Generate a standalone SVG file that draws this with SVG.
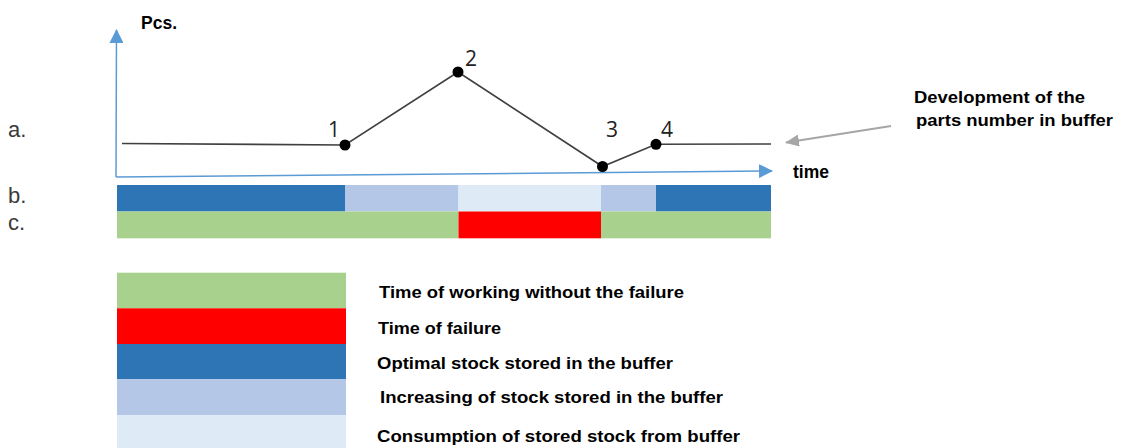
<svg xmlns="http://www.w3.org/2000/svg" width="1124" height="448" viewBox="0 0 1124 448">
  <style>
    .lbl { font-family: "Liberation Sans", Arial, sans-serif; font-weight: bold; fill: #000; }
    .abc { font-family: "Liberation Sans", Arial, sans-serif; font-size: 22px; fill: #3a3a3a; }
    .num { font-family: "Open Sans", "Liberation Sans", sans-serif; font-size: 21px; fill: #222; text-anchor: middle; }
    .data { fill: none; stroke: #404040; stroke-width: 1.6; }
    .axis { fill: none; stroke: #5b9bd5; stroke-width: 1.5; }
    .dot { fill: #000; }
    .g { fill: #a9d18e; }
    .r { fill: #ff0000; }
    .db { fill: #2e75b6; }
    .lb { fill: #b4c7e7; }
    .xb { fill: #deebf7; }
  </style>
  <defs>
    <marker id="blueArrow" markerWidth="14" markerHeight="14" refX="13" refY="7" orient="auto" markerUnits="userSpaceOnUse" viewBox="0 0 14 14">
      <path d="M0,0 L14,7 L0,14 Z" fill="#5b9bd5"/>
    </marker>
    <marker id="grayArrow" markerWidth="14" markerHeight="12" refX="13" refY="6" orient="auto" markerUnits="userSpaceOnUse" viewBox="0 0 14 12">
      <path d="M0,0 L14,6 L0,12 Z" fill="#a6a6a6"/>
    </marker>
  </defs>

  <rect width="1124" height="448" fill="#fff"/>

  <g id="axes">
    <path class="axis" d="M116,177 L116.5,30" marker-end="url(#blueArrow)"/>
    <path class="axis" d="M116,177 L772,171" marker-end="url(#blueArrow)"/>
    <text class="lbl" x="141" y="29" font-size="17.5">Pcs.</text>
    <text class="lbl" x="793" y="178" font-size="17.5">time</text>
  </g>

  <g id="row-labels">
    <text class="abc" x="8" y="137">a.</text>
    <text class="abc" x="8" y="203">b.</text>
    <text class="abc" x="8" y="229.5">c.</text>
  </g>

  <g id="connectors">
    <polyline class="data" points="122,143.5 345,145 458,72 602.5,166.5 656,144.3 771,144"/>
    <line x1="891" y1="126" x2="786" y2="142.5" stroke="#a6a6a6" stroke-width="1.8" marker-end="url(#grayArrow)"/>
  </g>

  <g id="point-1"><circle class="dot" cx="345" cy="145" r="5.5"/><text class="num" x="334" y="137">1</text></g>
  <g id="point-2"><circle class="dot" cx="458" cy="72" r="5.5"/><text class="num" x="471" y="66">2</text></g>
  <g id="point-3"><circle class="dot" cx="602.5" cy="166.5" r="5.5"/><text class="num" x="612" y="137">3</text></g>
  <g id="point-4"><circle class="dot" cx="656" cy="144.3" r="5.5"/><text class="num" x="667" y="137">4</text></g>

  <g id="annotation">
    <text class="lbl" x="914" y="103" font-size="17" textLength="171" lengthAdjust="spacingAndGlyphs">Development of the</text>
    <text class="lbl" x="916" y="126" font-size="17" textLength="197" lengthAdjust="spacingAndGlyphs">parts number in buffer</text>
  </g>

  <g id="bar-b">
    <rect class="db" x="117" y="185" width="228" height="26.5"/>
    <rect class="lb" x="345" y="185" width="113.5" height="26.5"/>
    <rect class="xb" x="458.5" y="185" width="142.5" height="26.5"/>
    <rect class="lb" x="601" y="185" width="55" height="26.5"/>
    <rect class="db" x="656" y="185" width="115" height="26.5"/>
  </g>
  <g id="bar-c">
    <rect class="g" x="117" y="211.5" width="341.5" height="26.8"/>
    <rect class="r" x="458.5" y="211.5" width="142.5" height="26.8"/>
    <rect class="g" x="601" y="211.5" width="170" height="26.8"/>
  </g>

  <g id="legend">
    <g id="legend-working"><rect class="g" x="117" y="272.7" width="229" height="35.6"/><text class="lbl" x="379" y="298" font-size="17" textLength="305" lengthAdjust="spacingAndGlyphs">Time of working without the failure</text></g>
    <g id="legend-failure"><rect class="r" x="117" y="308.3" width="229" height="35.7"/><text class="lbl" x="378" y="334" font-size="17" textLength="123" lengthAdjust="spacingAndGlyphs">Time of failure</text></g>
    <g id="legend-optimal"><rect class="db" x="117" y="344" width="229" height="35.3"/><text class="lbl" x="377" y="369" font-size="17" textLength="296" lengthAdjust="spacingAndGlyphs">Optimal stock stored in the buffer</text></g>
    <g id="legend-increasing"><rect class="lb" x="117" y="379.3" width="229" height="35.7"/><text class="lbl" x="380" y="403" font-size="17" textLength="343" lengthAdjust="spacingAndGlyphs">Increasing of stock stored in the buffer</text></g>
    <g id="legend-consumption"><rect class="xb" x="117" y="415" width="229" height="33"/><text class="lbl" x="377" y="441.5" font-size="17" textLength="363" lengthAdjust="spacingAndGlyphs">Consumption of stored stock from buffer</text></g>
  </g>
</svg>
